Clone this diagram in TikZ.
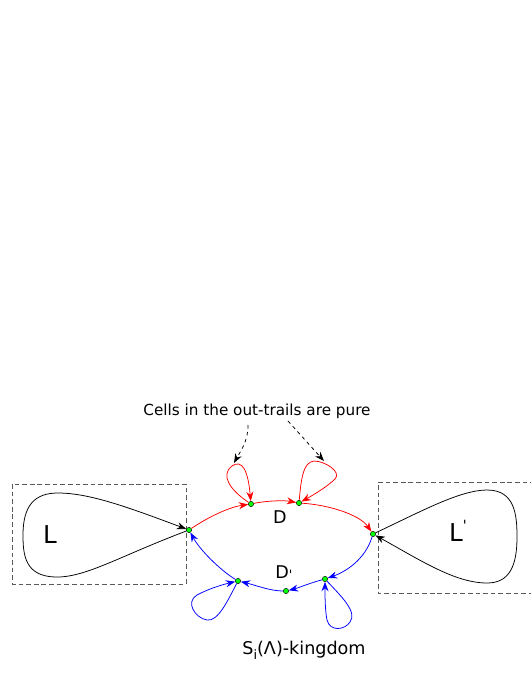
\documentclass[tikz,border=0pt]{standalone}
\usepackage{fontspec}
\setmainfont{DejaVu Sans}
\usetikzlibrary{arrows.meta}

\begin{document}
\begin{tikzpicture}[x=0.03cm, y=-0.03cm, >={Stealth[length=8pt,width=6pt]}, line width=0.65pt,
  cell/.style={circle, draw=black, fill=green, line width=0.4pt, inner sep=0pt, minimum size=4.5pt},
  region/.style={draw=black!65, dash pattern=on 4pt off 2.5pt, line width=0.8pt},
  big/.style={font=\fontsize{21}{21}\selectfont},
  mid/.style={font=\fontsize{15}{15}\selectfont}]
  \useasboundingbox (0,0) rectangle (531,688);

  % dashed boxes round the two loops
  \draw[region] (12,484) rectangle (186,584);
  \draw[region] (535,482) -- (378,482) -- (378,593) -- (535,593);

  % cells on the trails
  \node[cell] (c1) at (189,530) {};
  \node[cell] (c2) at (251,504) {};
  \node[cell] (c3) at (299,503) {};
  \node[cell] (c4) at (373,534) {};
  \node[cell] (c5) at (325,579) {};
  \node[cell] (c6) at (286,591) {};
  \node[cell] (c7) at (238,581) {};

  % labels
  \node[big] (lL) at (50,535) {L};
  \node[big] (lR) at (458,531) {L\raisebox{0.8ex}{\fontsize{12}{12}\selectfont\textquotesingle}};
  \node[mid] (dU) at (280,517) {D};
  \node[mid] (dL) at (284,573) {D\raisebox{-0.1ex}{\fontsize{11}{11}\selectfont\textquotesingle}};
  \node[font=\fontsize{13}{13}\selectfont] (note) at (257,411) {Cells in the out-trails are pure};
  \node[mid] (king) at (304,650) {S\raisebox{-0.5ex}{\fontsize{11}{11}\selectfont i}(Λ)-kingdom};

  % left and right loops
  \draw[->] (c1) .. controls (120,556) and (85,578) .. (55,577)
    .. controls (25,576) and (23,555) .. (23,535)
    .. controls (23,505) and (35,493) .. (58,493)
    .. controls (90,493) and (130,508) .. (c1);
  \draw[->] (c4) .. controls (420,512) and (460,490) .. (487,490)
    .. controls (515,490) and (517,515) .. (517,537)
    .. controls (517,565) and (510,583) .. (487,583)
    .. controls (455,583) and (420,560) .. (c4);

  % out-trail (red)
  \draw[->, red] (c1) .. controls (210,516) and (230,507) .. (c2);
  \draw[->, red] (c2) .. controls (265,501) and (283,500) .. (c3);
  \draw[->, red] (c3) .. controls (330,505) and (360,515) .. (c4);
  \draw[->, red] (c2) .. controls (230,490) and (220,475) .. (232,466)
    .. controls (242,459) and (248,470) .. (c2);
  \draw[->, red] (c3) .. controls (301,480) and (303,462) .. (314,461)
    .. controls (325,461) and (342,472) .. (335,479)
    .. controls (328,486) and (315,494) .. (c3);

  % in-trail (blue)
  \draw[->, blue] (c4) .. controls (365,560) and (345,572) .. (c5);
  \draw[->, blue] (c5) .. controls (310,583) and (298,588) .. (c6);
  \draw[->, blue] (c6) .. controls (270,591) and (255,585) .. (c7);
  \draw[->, blue] (c7) .. controls (220,570) and (200,550) .. (c1);
  \draw[->, blue] (c7) .. controls (228,600) and (218,622) .. (207,620)
    .. controls (195,618) and (185,602) .. (197,595)
    .. controls (210,588) and (225,584) .. (c7);
  \draw[->, blue] (c5) .. controls (340,595) and (358,612) .. (350,622)
    .. controls (345,630) and (330,632) .. (327,620)
    .. controls (325,610) and (325,595) .. (c5);

  % pointers from the note
  \coordinate (p1) at (248,425);
  \coordinate (q1) at (234,463);
  \coordinate (p2) at (288,421);
  \coordinate (q2) at (324,461);
  \draw[->, dashed] (p1) .. controls (248,442) and (240,452) .. (q1);
  \draw[->, dashed] (p2) -- (q2);
\end{tikzpicture}
\end{document}
